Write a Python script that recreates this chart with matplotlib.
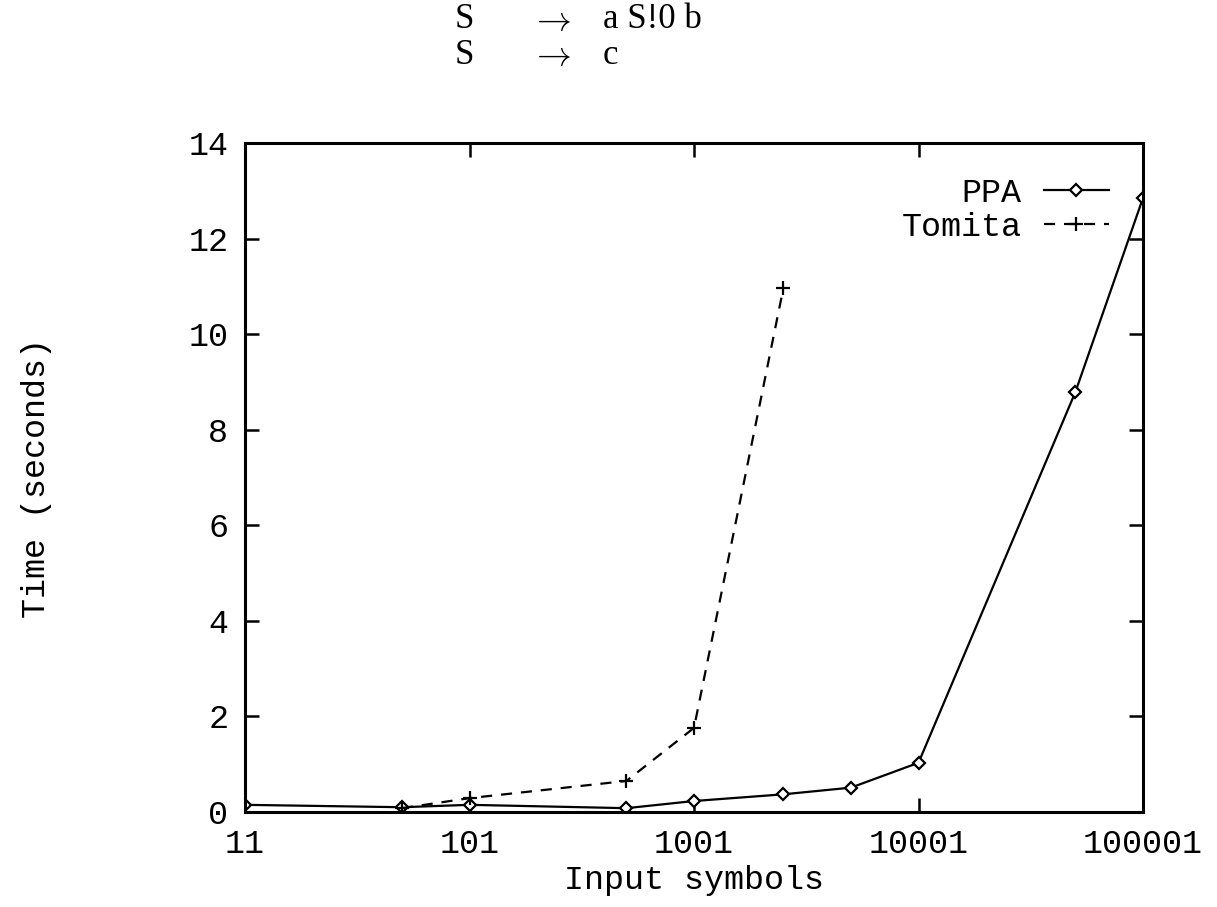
import numpy as np
import matplotlib
matplotlib.use("Agg")
import matplotlib.pyplot as plt

# input sizes (symbols) and timings in seconds
ppa_x = [11, 51, 101, 501, 1001, 2501, 5001, 10001, 50001, 100001]
ppa_t = [0.15, 0.10, 0.15, 0.08, 0.23, 0.37, 0.51, 1.03, 8.79, 12.85]
tomita_x = [51, 101, 501, 1001, 2501]
tomita_t = [0.08, 0.29, 0.65, 1.76, 10.96]

xticks = [11, 101, 1001, 10001, 100001]
yticks = [0, 2, 4, 6, 8, 10, 12, 14]

mono = "Liberation Mono"
serif = ["Liberation Serif", "DejaVu Serif"]
plt.rcParams["mathtext.fontset"] = "cm"

W, H = 1217, 907
fig = plt.figure(figsize=(W / 100, H / 100), dpi=100)
ax = fig.add_axes([245 / W, 1 - 812 / H, (1143 - 245) / W, (812 - 143) / H])


def fwd(x):
    x = np.asarray(x, dtype=float)
    return np.log10(np.maximum(x - 1, 1e-9))


def inv(y):
    return 10 ** np.asarray(y, dtype=float) + 1


ax.set_xscale("function", functions=(fwd, inv))
ax.plot(ppa_x, ppa_t, color="black", lw=1.6, marker="D", ms=6,
        mfc="white", mec="black", mew=1.6, label="PPA")
ax.plot(tomita_x, tomita_t, color="black", lw=1.6, ls=(0, (5, 4)),
        marker="+", ms=10, mew=1.6, label="Tomita")

ax.set_xlim(11, 100001)
ax.set_ylim(0, 14)
ax.set_xticks(xticks)
ax.set_xticklabels([str(v) for v in xticks])
ax.set_yticks(yticks)
ax.minorticks_off()
ax.tick_params(direction="in", length=10, width=1.8, top=True, right=True,
               labelsize=24, pad=12)
for lab in ax.get_xticklabels() + ax.get_yticklabels():
    lab.set_fontfamily(mono)
for s in ax.spines.values():
    s.set_linewidth(2.2)

ax.set_xlabel("Input symbols", fontsize=24, family=mono, labelpad=4)
ax.set_ylabel("Time (seconds)", fontsize=24, family=mono, labelpad=98)

leg = ax.legend(loc="upper right", bbox_to_anchor=(0.995, 0.993),
                markerfirst=False, frameon=False, numpoints=1,
                handlelength=1.95, handletextpad=0.65, labelspacing=0.1,
                prop={"family": mono, "size": 24})

# grammar shown above the plot
for yy, rhs in [(20, "a S!0 b"), (55, "c")]:
    fig.text(455 / W, 1 - yy / H, "S", family=serif, fontsize=25, va="center")
    fig.text(530 / W, 1 - yy / H, r"$\rightarrow$", fontsize=25, va="center")
    fig.text(603 / W, 1 - yy / H, rhs, family=serif, fontsize=25, va="center")

fig.savefig("out.png", dpi=100)
